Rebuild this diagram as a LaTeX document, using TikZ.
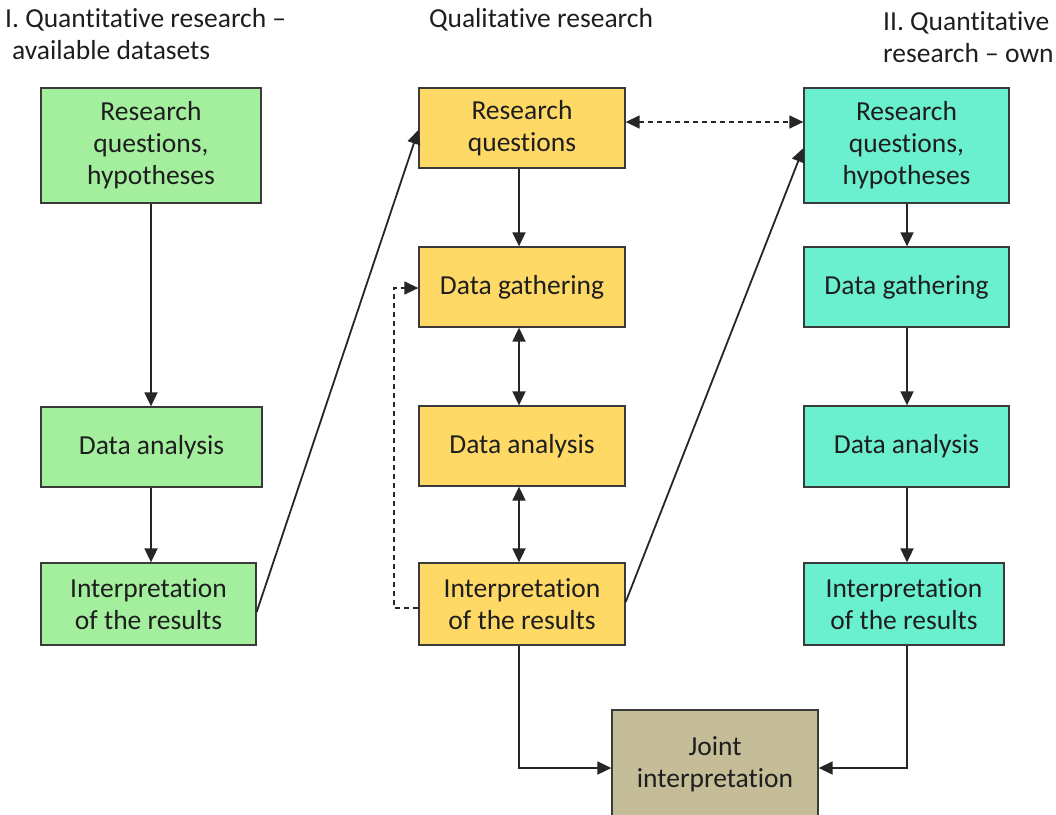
\documentclass[tikz,border=0pt]{standalone}
\usepackage{fontspec}
\setmainfont{Carlito}[RawFeature={-liga;-clig;-calt;-dlig}]
\usetikzlibrary{arrows.meta}
\definecolor{gbox}{HTML}{A3EF9E}
\definecolor{ybox}{HTML}{FFD966}
\definecolor{tbox}{HTML}{6BF0CF}
\definecolor{jbox}{HTML}{C4BD97}
\definecolor{bord}{HTML}{3A3A3A}
\definecolor{txt}{HTML}{1E1E1E}
\begin{document}
\begin{tikzpicture}[x=1pt,y=-1pt,
  box/.style={draw=bord,line width=1.3pt,inner sep=0pt,align=center,text=txt,
    font=\fontsize{27.5}{32}\selectfont},
  head/.style={inner sep=0pt,text=txt,font=\fontsize{27.5}{32}\selectfont,align=left},
  conn/.style={line width=1.8pt,draw=black!85,-{Triangle[length=14pt,width=13pt]}},
  biconn/.style={line width=1.8pt,draw=black!85,{Triangle[length=14pt,width=13pt]}-{Triangle[length=14pt,width=13pt]}},
  dconn/.style={conn,line width=1.4pt,dash pattern=on 5pt off 4pt}]
\useasboundingbox (0,0) rectangle (1056,814);
% headings
\node[head,anchor=north west] (h1) at (5,8) {I. Quantitative research --\\\hspace{7pt}available datasets};
\node[head,anchor=north] (h2) at (541,8) {Qualitative research};
\node[head,anchor=north west] (h3) at (883,11) {II. Quantitative\\research -- own};
% left column
\node[box,fill=gbox,minimum width=220pt,minimum height=115pt] (b1) at (151,145.5) {Research\\questions,\\hypotheses};
\node[box,fill=gbox,minimum width=221pt,minimum height=80pt] (b2) at (151.5,447) {Data analysis};
\node[box,fill=gbox,minimum width=215pt,minimum height=82pt] (b3) at (148.5,604) {Interpretation\\of the results};
% middle column
\node[box,fill=ybox,minimum width=206pt,minimum height=80pt] (m1) at (522,128) {Research\\questions};
\node[box,fill=ybox,minimum width=206pt,minimum height=80pt] (m2) at (522,287) {Data gathering};
\node[box,fill=ybox,minimum width=206pt,minimum height=80pt] (m3) at (522,446) {Data analysis};
\node[box,fill=ybox,minimum width=206pt,minimum height=82pt] (m4) at (522,604) {Interpretation\\of the results};
% right column
\node[box,fill=tbox,minimum width=205pt,minimum height=115pt] (r1) at (906.5,145.5) {Research\\questions,\\hypotheses};
\node[box,fill=tbox,minimum width=205pt,minimum height=80pt] (r2) at (906.5,287) {Data gathering};
\node[box,fill=tbox,minimum width=205pt,minimum height=81pt] (r3) at (906.5,446.5) {Data analysis};
\node[box,fill=tbox,minimum width=200pt,minimum height=82pt] (r4) at (904,604) {Interpretation\\of the results};
% joint
\node[box,fill=jbox,minimum width=206pt,minimum height=108pt] (j) at (715,764) {Joint\\interpretation};
% connectors
\draw[conn] (b1.south -| 151,0) -- (b2.north -| 151,0);
\draw[conn] (b2.south -| 151,0) -- (b3.north -| 151,0);
\draw[conn] (b3.east |- 0,612) -- (m1.west |- 0,130);
\draw[conn] (m1.south -| 519,0) -- (m2.north -| 519,0);
\draw[biconn] (m2.south -| 519,0) -- (m3.north -| 519,0);
\draw[biconn] (m3.south -| 519,0) -- (m4.north -| 519,0);
\draw[dconn] (m4.west |- 0,608) -| (394,288) -- (m2.west |- 0,288);
\draw[biconn,line width=1.4pt,dash pattern=on 5pt off 4pt] (m1.east |- 0,122) -- (r1.west |- 0,122);
\draw[conn] (m4.east |- 0,602) -- (r1.west |- 0,148);
\draw[conn] (r1.south -| 907,0) -- (r2.north -| 907,0);
\draw[conn] (r2.south -| 907,0) -- (r3.north -| 907,0);
\draw[conn] (r3.south -| 907,0) -- (r4.north -| 907,0);
\draw[conn] (m4.south -| 519,0) |- (j.west |- 0,768);
\draw[conn] (r4.south -| 907,0) |- (j.east |- 0,768);
\end{tikzpicture}
\end{document}
